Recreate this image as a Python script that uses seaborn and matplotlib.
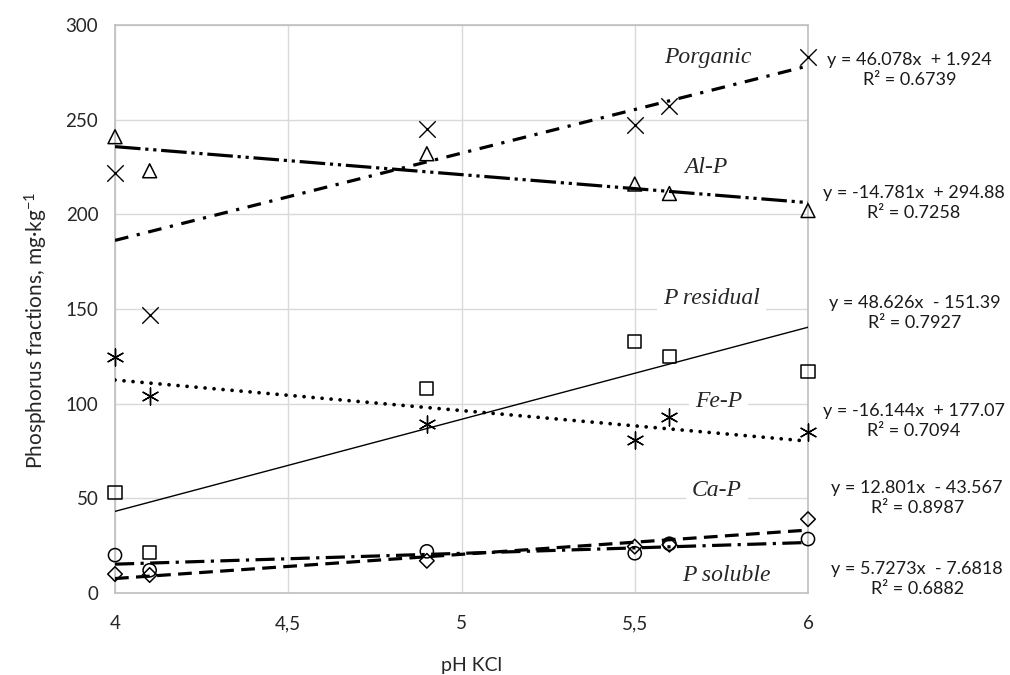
import numpy as np
import pandas as pd
import matplotlib
matplotlib.use('Agg')
import matplotlib.pyplot as plt
import seaborn as sns

# values
ph = [4, 4.1, 4.9, 5.5, 5.6, 6]
fractions = ['Porganic', 'Al-P', 'P residual', 'Fe-P', 'Ca-P', 'P soluble']
p_organic = [222, 147, 245, 247, 257, 283]
al_p = [241, 223, 232, 216, 211, 202]
p_residual = [53, 21.5, 108, 133, 125, 117]
fe_p = [124.5, 104, 89, 81, 93, 85]
ca_p = [10, 9.5, 17, 24.5, 25.5, 39]
p_soluble = [20, 12, 22, 21, 26, 28.5]
slopes = [46.078, -14.781, 48.626, -16.144, 12.801, 5.7273]
intercepts = [1.924, 294.88, -151.39, 177.07, -43.567, -7.6818]
r2 = ['0.6739', '0.7258', '0.7927', '0.7094', '0.8987', '0.6882']
x_ticks = [4, 4.5, 5, 5.5, 6]
x_ticklabels = ['4', '4,5', '5', '5,5', '6']
y_ticks = [0, 50, 100, 150, 200, 250, 300]

values = [p_organic, al_p, p_residual, fe_p, ca_p, p_soluble]
df = pd.DataFrame({
    'pH': ph * len(fractions),
    'value': sum(values, []),
    'fraction': [f for f in fractions for _ in ph],
})

# styles
markers = ['x', '^', 's', (6, 2, 0), 'D', 'o']
msizes = [140, 100, 90, 150, 55, 90]
linestyles = [(0, (4.3, 2.7, 1, 2.7)),
              (0, (8, 1.5, 1, 1.5, 1, 1.5)),
              '-',
              (0, (0.01, 2.4)),
              (0, (4.3, 2.3)),
              (0, (6, 2, 1, 2))]
lwidths = [2.3, 2.3, 1.0, 2.7, 2.3, 2.3]
name_pos = [(5.711, 282.6), (5.705, 224.5), (5.722, 155.8),
            (5.742, 101), (5.737, 54.4), (5.763, 9.5)]
eq_pos = [(6.294, 276.2), (6.305, 206.2), (6.308, 147.9),
          (6.305, 91), (6.315, 50.4), (6.315, 7.4)]

sns.set_theme(style='whitegrid')
plt.rcParams['font.family'] = ['Lato', 'DejaVu Sans']
plt.rcParams['mathtext.default'] = 'regular'

fig = plt.figure(figsize=(10.1, 6.75), dpi=100)
ax = fig.add_axes([115 / 1010, 82 / 675, 693 / 1010, 568 / 675])

xline = np.array([4.0, 6.0])
for i, name in enumerate(fractions):
    sub = df[df['fraction'] == name]
    if markers[i] in ('x', (6, 2, 0)):
        sns.scatterplot(data=sub, x='pH', y='value', marker=markers[i], s=msizes[i],
                        color='black', linewidth=1.0, ax=ax, clip_on=False, zorder=4)
    else:
        sns.scatterplot(data=sub, x='pH', y='value', marker=markers[i], s=msizes[i],
                        facecolor='none', edgecolor='black', linewidth=1.1, ax=ax,
                        clip_on=False, zorder=4)
    sns.lineplot(x=xline, y=slopes[i] * xline + intercepts[i], color='black',
                 linestyle=linestyles[i], linewidth=lwidths[i],
                 dash_capstyle='round' if i == 3 else 'butt', ax=ax, zorder=3)
    ax.text(name_pos[i][0], name_pos[i][1], name, family='Liberation Serif',
            style='italic', fontsize=17, ha='center', va='center', zorder=2,
            bbox=dict(facecolor='white', edgecolor='none', boxstyle='square,pad=0.25'))
    sign = '+' if intercepts[i] >= 0 else '-'
    eq = f'y = {slopes[i]}x  {sign} {abs(intercepts[i])}\nR² = {r2[i]}'
    ax.text(eq_pos[i][0], eq_pos[i][1], eq, fontsize=13, ha='center', va='center',
            multialignment='center', linespacing=1.3, color='#1a1a1a', clip_on=False)

ax.set_xlim(4, 6)
ax.set_ylim(0, 300)
ax.set_xticks(x_ticks)
ax.set_xticklabels(x_ticklabels)
ax.set_yticks(y_ticks)
ax.tick_params(axis='both', length=0, labelsize=13.5, colors='#262626')
ax.tick_params(axis='x', pad=16)
ax.tick_params(axis='y', pad=12)
ax.grid(True, color='#d9d9d9', linewidth=1)
ax.set_axisbelow(True)
for sp in ax.spines.values():
    sp.set_color('#bfbfbf')
    sp.set_linewidth(1.2)
ax.set_xlabel('')
ax.set_ylabel('')

fig.text(472 / 1010, 1 - 665 / 675, 'pH KCl', fontsize=14, ha='center', va='center',
         color='#262626')
fig.text(36 / 1010, 1 - 330 / 675, 'Phosphorus fractions, mg·kg$^{-1}$', fontsize=15,
         rotation=90, ha='center', va='center', color='#262626')

fig.savefig('out.png', dpi=100)
